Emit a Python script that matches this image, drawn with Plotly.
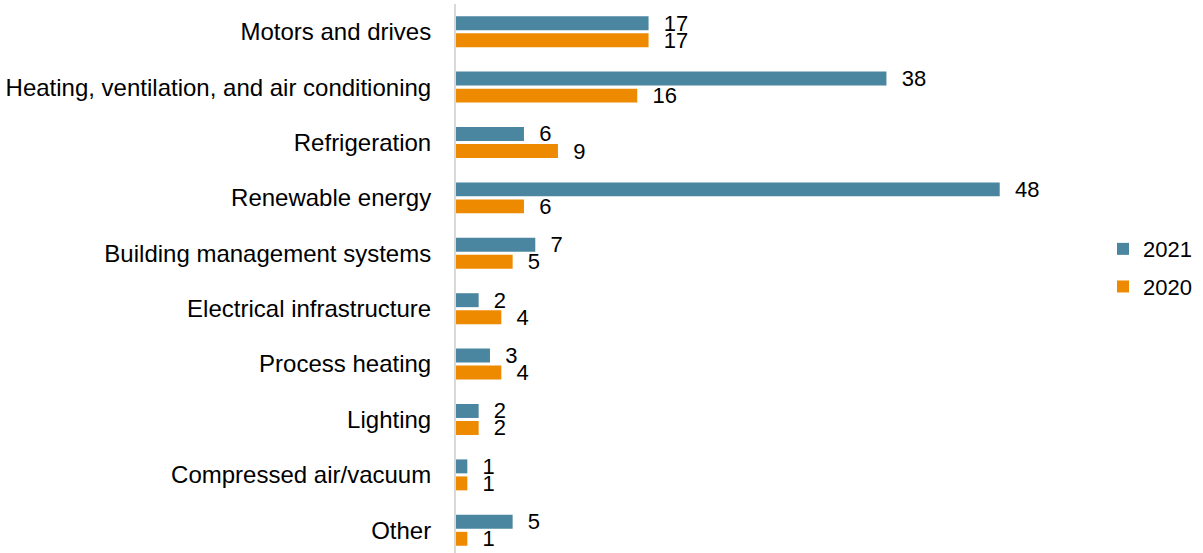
import plotly.graph_objects as go

categories = [
    "Motors and drives",
    "Heating, ventilation, and air conditioning",
    "Refrigeration",
    "Renewable energy",
    "Building management systems",
    "Electrical infrastructure",
    "Process heating",
    "Lighting",
    "Compressed air/vacuum",
    "Other",
]
values_2021 = [17, 38, 6, 48, 7, 2, 3, 2, 1, 5]
values_2020 = [17, 16, 9, 6, 5, 4, 4, 2, 1, 1]

FONT = "Liberation Sans, Arial, sans-serif"
FS = 24
FS_LABEL = 22

fig = go.Figure()
fig.add_trace(go.Bar(
    y=categories, x=values_2021, name="2021", orientation="h",
    marker=dict(color="#4A869F", line=dict(width=0)),
    text=values_2021, texttemplate="\u00a0\u00a0%{x}", textposition="outside",
    textfont=dict(size=FS_LABEL, color="#000000", family=FONT),
    constraintext="none", cliponaxis=False, legendgroup="a",
))
fig.add_trace(go.Bar(
    y=categories, x=values_2020, name="2020", orientation="h",
    marker=dict(color="#EE8A00", line=dict(width=0)),
    text=values_2020, texttemplate="\u00a0\u00a0%{x}", textposition="outside",
    textfont=dict(size=FS_LABEL, color="#000000", family=FONT),
    constraintext="none", cliponaxis=False, legendgroup="b",
))

fig.update_layout(
    width=1203, height=553,
    margin=dict(l=456, r=124, t=4, b=0, pad=0),
    paper_bgcolor="white", plot_bgcolor="white",
    barmode="group", bargap=0.386, bargroupgap=0.18,
    font=dict(family=FONT, size=FS, color="#000000"),
    showlegend=True,
    legend=dict(
        x=1.0385, xanchor="left", y=0.519, yanchor="middle",
        traceorder="grouped", tracegroupgap=6,
        font=dict(size=FS_LABEL, color="#000000", family=FONT),
        bgcolor="rgba(0,0,0,0)",
    ),
    xaxis=dict(range=[0, 55], visible=False, showgrid=False, zeroline=False),
    yaxis=dict(
        type="category", range=[9.41, -0.5],
        showline=True, linecolor="#D9D9D9", linewidth=2,
        showgrid=False, zeroline=False, ticks="",
        ticklabelstandoff=18,
        tickfont=dict(size=FS, color="#000000", family=FONT),
    ),
)

fig.write_html("out.html")
